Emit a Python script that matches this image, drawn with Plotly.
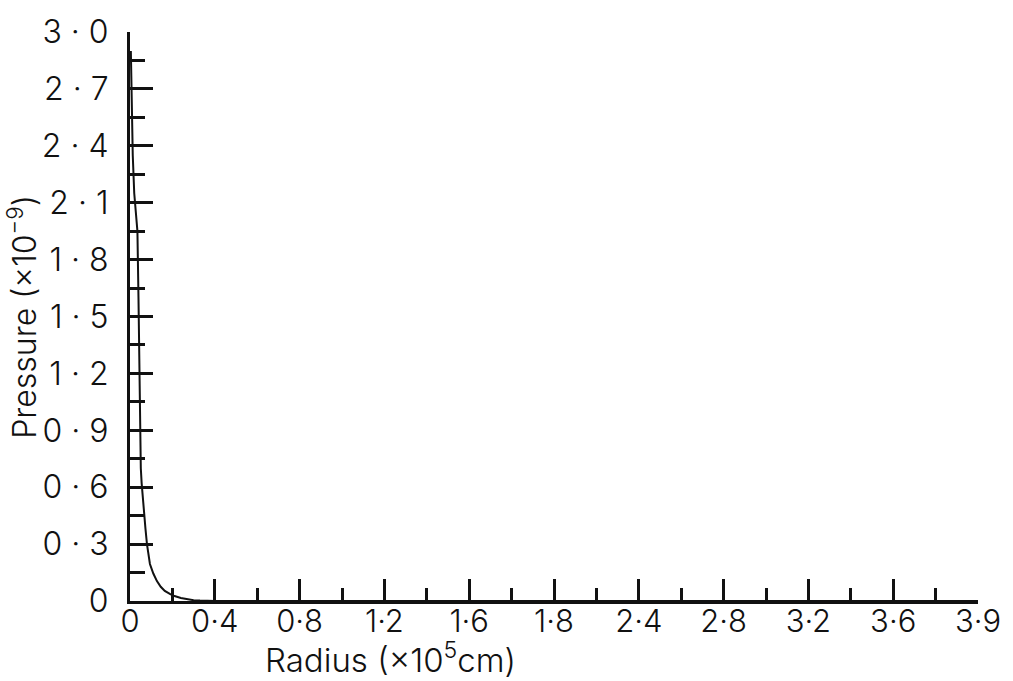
import plotly.graph_objects as go

# Pressure profile against radius
radius = [0.004, 0.008, 0.013, 0.020, 0.028, 0.035, 0.040, 0.044, 0.047, 0.051,
          0.055, 0.060, 0.066, 0.073, 0.080, 0.094, 0.110, 0.127, 0.145, 0.164,
          0.19, 0.21, 0.24, 0.27, 0.30, 0.33, 0.40, 1.0, 2.0, 3.0, 4.0]
pressure = [2.90, 2.60, 2.35, 2.15, 2.03, 1.95, 1.60, 1.20, 0.80, 0.70,
            0.62, 0.54, 0.46, 0.38, 0.30, 0.195, 0.145, 0.105, 0.075, 0.053,
            0.036, 0.026, 0.016, 0.008, 0.004, 0.002, 0.0, 0.0, 0.0, 0.0, 0.0]

# Axis ticks and their printed labels
x_tickvals = [0.0, 0.4, 0.8, 1.2, 1.6, 2.0, 2.4, 2.8, 3.2, 3.6, 4.0]
x_ticktext = ["0", "0·4", "0·8", "1·2", "1·6", "1·8", "2·4", "2·8", "3·2", "3·6", "3·9"]
x_minor = [0.2, 0.6, 1.0, 1.4, 1.8, 2.2, 2.6, 3.0, 3.4, 3.8]

y_tickvals = [0.0, 0.3, 0.6, 0.9, 1.2, 1.5, 1.8, 2.1, 2.4, 2.7, 3.0]
y_ticktext = ["0", "0 · 3", "0 · 6", "0 · 9", "1 · 2", "1 · 5", "1 · 8", "2 · 1", "2 · 4", "2 · 7", "3 · 0"]
y_minor = [0.15, 0.45, 0.75, 1.05, 1.35, 1.65, 1.95, 2.25, 2.55, 2.85]

FONT = "Inter"

fig = go.Figure()
fig.add_trace(go.Scatter(
    x=radius, y=pressure, mode="lines",
    line=dict(color="#111111", width=2),
    hoverinfo="skip", showlegend=False,
))

fig.update_layout(
    width=1013, height=681,
    margin=dict(l=130, r=30, t=29, b=80),
    paper_bgcolor="white", plot_bgcolor="white",
    font=dict(family=FONT, size=30, color="#111111", weight=300),
    showlegend=False,
    xaxis=dict(
        range=[0, 4.0], showgrid=False, zeroline=False,
        showline=True, linecolor="#111111", linewidth=3,
        tickmode="array", tickvals=x_tickvals, ticktext=x_ticktext,
        ticks="inside", ticklen=22, tickwidth=3, tickcolor="#111111",
        ticklabelstandoff=-9,
        minor=dict(tickmode="array", tickvals=x_minor, ticks="inside",
                   ticklen=13, tickwidth=3, tickcolor="#111111", showgrid=False),
        tickfont=dict(family=FONT, size=31, weight=300),
        fixedrange=True,
    ),
    yaxis=dict(
        range=[0, 3.0], showgrid=False, zeroline=False,
        showline=True, linecolor="#111111", linewidth=3,
        tickmode="array", tickvals=y_tickvals, ticktext=y_ticktext,
        ticks="inside", ticklen=23, tickwidth=3, tickcolor="#111111",
        ticklabelstandoff=12,
        minor=dict(tickmode="array", tickvals=y_minor, ticks="inside",
                   ticklen=15, tickwidth=3, tickcolor="#111111", showgrid=False),
        tickfont=dict(family=FONT, size=32, weight=300),
        fixedrange=True,
    ),
    annotations=[
        dict(text="Radius (×10<sup>5</sup>cm)", xref="paper", yref="paper",
             x=0.307, y=-0.1, xanchor="center", yanchor="middle",
             showarrow=False, font=dict(family=FONT, size=33, weight=300)),
        dict(text="Pressure (×10<sup>−9</sup>)", xref="paper", yref="paper",
             x=-0.127, y=0.50, xanchor="center", yanchor="middle", textangle=-90,
             showarrow=False, font=dict(family=FONT, size=32, weight=300)),
    ],
)

fig.write_html("out.html")
